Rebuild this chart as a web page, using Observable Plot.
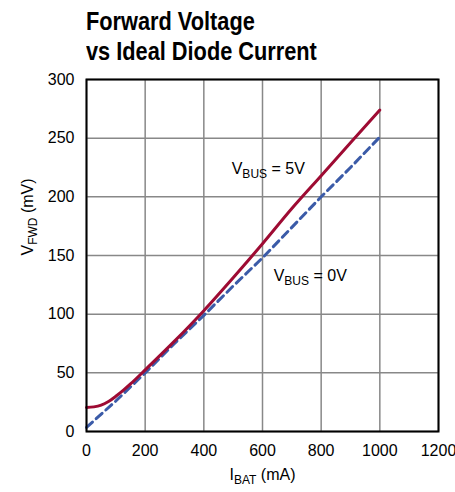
<!DOCTYPE html>
<html><head><meta charset="utf-8">
<script src="https://cdn.jsdelivr.net/npm/d3@7"></script>
<script src="https://cdn.jsdelivr.net/npm/@observablehq/plot@0.6"></script>
<style>
body{margin:0;background:#fff;}
#title{height:60px;padding:6px 0 0 86px;font-family:"Liberation Sans",Arial,sans-serif;font-weight:bold;font-size:25px;line-height:30px;color:#000;white-space:nowrap;}
#title span{display:inline-block;transform:scaleX(0.87);transform-origin:0 50%;}
</style></head><body>
<div id="title"><span>Forward Voltage</span><br><span>vs Ideal Diode Current</span></div>
<div id="chart"></div>
<script>
// I_BAT (mA) and V_FWD (mV)
const current5V = [0, 25, 50, 75, 100, 125, 150, 200, 300, 400, 500, 600, 700, 800, 900, 1000];
const vfwd5V    = [20.5, 21, 22.5, 25.5, 30, 35, 40.5, 52.5, 77, 103, 131, 160, 190, 218, 246, 274];
const current0V = [0, 100, 200, 300, 400, 500, 600, 700, 800, 900, 1000];
const vfwd0V    = [3.5, 26, 50, 75, 99, 124, 148, 174, 200, 225, 251];
const xTicks = [0, 200, 400, 600, 800, 1000, 1200];
const yTicks = [0, 50, 100, 150, 200, 250, 300];
const annotations = [
  {x: 495, y: 224, label: "V_{BUS} = 5V"},
  {x: 638, y: 132.7, label: "V_{BUS} = 0V"}
];

const s5 = current5V.map((x, i) => ({x, y: vfwd5V[i]}));
const s0 = current0V.map((x, i) => ({x, y: vfwd0V[i]}));

const chart = Plot.plot({
  width: 455, height: 426,
  marginTop: 13, marginBottom: 61, marginLeft: 86, marginRight: 17,
  style: {fontFamily: "Liberation Sans, Arial, sans-serif", fontSize: "16px", color: "#000", background: "#fff", overflow: "visible"},
  x: {domain: [0, 1200]},
  y: {domain: [0, 300]},
  marks: [
    Plot.gridX(xTicks, {stroke: "#888", strokeOpacity: 1, strokeWidth: 1.5}),
    Plot.gridY(yTicks, {stroke: "#888", strokeOpacity: 1, strokeWidth: 1.5}),
    Plot.axisX(xTicks, {tickSize: 0, tickPadding: 13, label: null, fontSize: 16, tickFormat: d => String(d)}),
    Plot.axisY(yTicks, {tickSize: 0, tickPadding: 12, label: null, fontSize: 16, tickFormat: d => String(d)}),
    Plot.line(s0, {x: "x", y: "y", stroke: "#3b5ba8", strokeWidth: 3, strokeDasharray: "8,5"}),
    Plot.line(s5, {x: "x", y: "y", stroke: "#9e0b33", strokeWidth: 3, curve: "monotone-x"}),
    Plot.frame({stroke: "#000", strokeWidth: 2}),
    Plot.text(annotations, {x: "x", y: "y", text: "label", textAnchor: "start", lineAnchor: "middle", fontSize: 16}),
    Plot.text(["I_{BAT} (mA)"], {text: d => d, frameAnchor: "bottom", lineAnchor: "middle", dy: 43, fontSize: 16}),
    Plot.text(["V_{FWD} (mV)"], {text: d => d, frameAnchor: "left", lineAnchor: "middle", rotate: -90, dx: -59, fontSize: 16})
  ]
});

const ns = "http://www.w3.org/2000/svg";
chart.querySelectorAll("text").forEach(t => {
  const s = t.textContent;
  const m = s.match(/^(.*)_\{(.*)\}(.*)$/);
  if (!m) return;
  t.textContent = "";
  const a = document.createElementNS(ns, "tspan"); a.textContent = m[1];
  const b = document.createElementNS(ns, "tspan"); b.textContent = m[2];
  b.setAttribute("dy", "4"); b.setAttribute("font-size", "12");
  const c = document.createElementNS(ns, "tspan"); c.textContent = m[3];
  c.setAttribute("dy", "-4");
  t.append(a, b, c);
});
document.getElementById("chart").append(chart);
</script>
</body></html>
